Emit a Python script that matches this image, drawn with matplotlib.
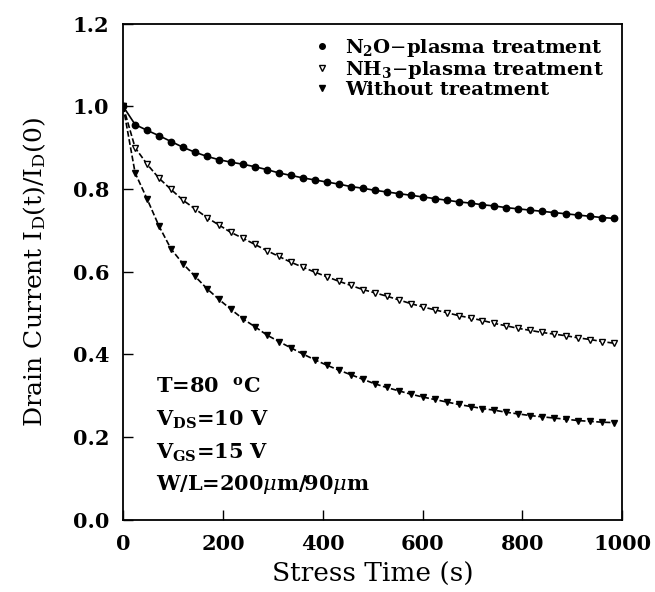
import numpy as np
import matplotlib
matplotlib.use('Agg')
import matplotlib.pyplot as plt
from matplotlib.lines import Line2D

plt.rcParams['font.family'] = 'DejaVu Serif'
plt.rcParams['mathtext.fontset'] = 'dejavuserif'

# Stress time (s)
stress_time = [0, 24, 48, 72, 96, 120, 144, 168, 192, 216, 240, 264, 288, 312,
               336, 360, 384, 408, 432, 456, 480, 504, 528, 552, 576, 600, 624,
               648, 672, 696, 720, 744, 768, 792, 816, 840, 864, 888, 912, 936,
               960, 984]

# normalised drain current I_D(t)/I_D(0)
n2o = [1.000, 0.956, 0.942, 0.929, 0.915, 0.901, 0.889, 0.879, 0.871, 0.865,
       0.860, 0.854, 0.847, 0.839, 0.833, 0.827, 0.822, 0.817, 0.812, 0.806,
       0.802, 0.797, 0.793, 0.789, 0.785, 0.781, 0.777, 0.773, 0.769, 0.766,
       0.762, 0.759, 0.755, 0.752, 0.749, 0.746, 0.743, 0.740, 0.737, 0.734,
       0.731, 0.729]
nh3 = [1.000, 0.900, 0.860, 0.826, 0.799, 0.773, 0.752, 0.731, 0.713, 0.695,
       0.681, 0.666, 0.651, 0.637, 0.623, 0.611, 0.599, 0.588, 0.577, 0.567,
       0.557, 0.549, 0.541, 0.532, 0.523, 0.515, 0.508, 0.501, 0.494, 0.488,
       0.482, 0.475, 0.469, 0.463, 0.458, 0.453, 0.449, 0.445, 0.440, 0.436,
       0.431, 0.427]
untreated = [1.000, 0.839, 0.776, 0.710, 0.655, 0.619, 0.589, 0.559, 0.533,
             0.509, 0.486, 0.467, 0.447, 0.431, 0.416, 0.401, 0.387, 0.374,
             0.362, 0.351, 0.340, 0.329, 0.320, 0.312, 0.304, 0.297, 0.291,
             0.285, 0.279, 0.274, 0.269, 0.265, 0.260, 0.256, 0.252, 0.249,
             0.246, 0.243, 0.240, 0.238, 0.236, 0.235]

labels = ['N$_\\mathregular{2}$O$-$plasma treatment',
          'NH$_\\mathregular{3}$$-$plasma treatment',
          'Without treatment']

fig = plt.figure(figsize=(6.55, 5.92), dpi=100)
ax = fig.add_axes([0.188, 0.122, 0.762, 0.838])

ax.plot(stress_time, n2o, '-', color='black', lw=1.2,
        marker='o', ms=4.6, mfc='black', mec='black')
ax.plot(stress_time, nh3, color='black', lw=1.2, linestyle=(0, (3.5, 1.5)),
        marker='v', ms=4.8, mfc='white', mec='black', mew=1.0)
ax.plot(stress_time, untreated, color='black', lw=1.2, linestyle=(0, (3.5, 1.5)),
        marker='v', ms=4.4, mfc='black', mec='black')

ax.set_xlim(0, 1000)
ax.set_ylim(0, 1.2)
ax.set_xticks([0, 200, 400, 600, 800, 1000])
ax.set_yticks([0.0, 0.2, 0.4, 0.6, 0.8, 1.0, 1.2])
ax.set_yticklabels(['0.0', '0.2', '0.4', '0.6', '0.8', '1.0', '1.2'])
ax.tick_params(direction='in', length=7, width=1.0, labelsize=15, pad=10)
for lbl in ax.get_xticklabels() + ax.get_yticklabels():
    lbl.set_fontweight('bold')
for sp in ax.spines.values():
    sp.set_linewidth(1.3)

ax.set_xlabel('Stress Time (s)', fontsize=19, labelpad=6)
ax.set_ylabel('Drain Current I$_\\mathregular{D}$(t)/I$_\\mathregular{D}$(0)',
              fontsize=18, labelpad=18)

handles = [Line2D([], [], ls='none', marker='o', ms=4, mfc='black', mec='black'),
           Line2D([], [], ls='none', marker='v', ms=4, mfc='white', mec='black'),
           Line2D([], [], ls='none', marker='v', ms=4, mfc='black', mec='black')]
ax.legend(handles, labels, loc='upper right', frameon=False,
          prop={'size': 14, 'weight': 'bold'}, handlelength=0.5,
          handletextpad=0.9, labelspacing=0.0, borderaxespad=0.3,
          bbox_to_anchor=(0.99, 1.0))

ax.text(65, 0.322, 'T=80  $^\\mathregular{o}$C', fontsize=15, fontweight='bold', va='center')
ax.text(65, 0.242, 'V$_\\mathregular{DS}$=10 V', fontsize=15, fontweight='bold', va='center')
ax.text(65, 0.162, 'V$_\\mathregular{GS}$=15 V', fontsize=15, fontweight='bold', va='center')
ax.text(65, 0.085, 'W/L=200$\\mu$m/90$\\mu$m', fontsize=15, fontweight='bold', va='center')

fig.savefig('out.png', dpi=100)
